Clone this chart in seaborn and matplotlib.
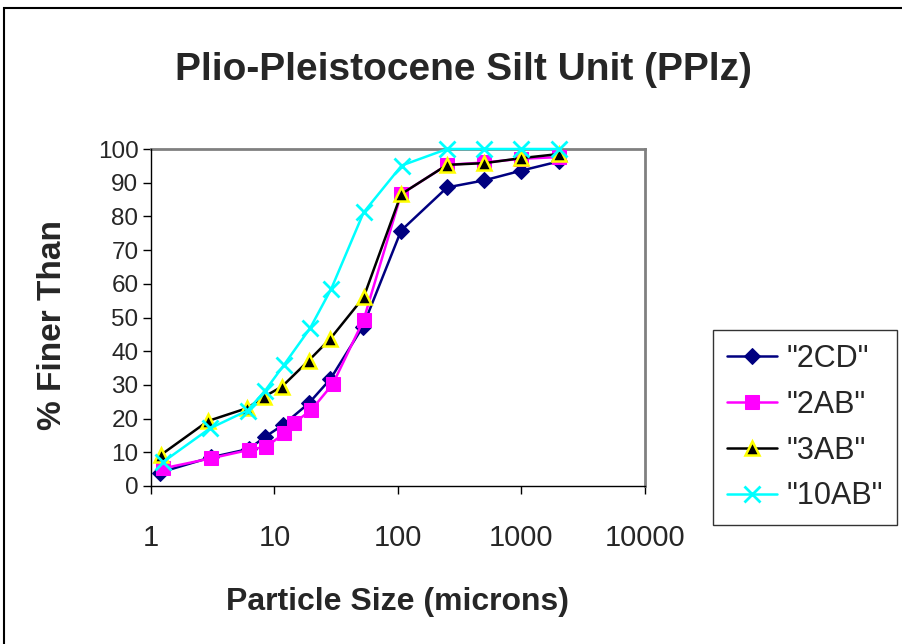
import matplotlib
matplotlib.use("Agg")
import matplotlib.pyplot as plt
import numpy as np
import pandas as pd
import seaborn as sns
from matplotlib.patches import Rectangle

sns.set_style("white")
plt.rcParams['font.family'] = ['Liberation Sans', 'DejaVu Sans']

# particle size (microns) and % finer
x_2cd = [1.18, 3.05, 6.2, 8.4, 11.7, 18.9, 28.3, 52, 106, 250, 500, 1000, 2000]
y_2cd = [4, 8.5, 11, 14.6, 18.1, 24.5, 31.7, 47.3, 75.8, 88.6, 90.7, 93.6, 96.3]

x_2ab = [1.24, 3.05, 6.2, 8.6, 12, 14.5, 19.9, 29.7, 52.7, 106, 250, 500, 1000, 2000]
y_2ab = [5.2, 8.2, 10.7, 11.7, 15.6, 18.8, 22.6, 30.3, 49.3, 86.6, 95.3, 96.0, 97.1, 97.6]

x_3ab = [1.2, 2.9, 6.0, 8.25, 11.5, 18.9, 28.3, 52.7, 106, 250, 500, 1000, 2000]
y_3ab = [9.2, 19.3, 23.1, 26.5, 29.5, 37.2, 43.7, 56, 86.6, 95.3, 95.8, 97.3, 98.5]

x_10ab = [1.26, 3.0, 6.05, 8.4, 11.85, 19.4, 28.8, 52.7, 107, 250, 500, 1000, 2000]
y_10ab = [7.2, 17.1, 22.4, 28.3, 35.8, 46.8, 58.5, 81.2, 95.1, 100, 100, 100, 100]

labels = ['"2CD"', '"2AB"', '"3AB"', '"10AB"']
x_ticks = [1, 10, 100, 1000, 10000]
y_ticks = list(range(0, 101, 10))

series = [
    (x_2cd, y_2cd, dict(color='#000080', marker='D', markersize=8, markeredgecolor='#000080')),
    (x_2ab, y_2ab, dict(color='#FF00FF', marker='s', markersize=10, markeredgecolor='#FF00FF')),
    (x_3ab, y_3ab, dict(color='black', marker='^', markersize=10, markeredgecolor='#FFFF00', markeredgewidth=1.8)),
    (x_10ab, y_10ab, dict(color='#00FFFF', marker='x', markersize=11, markeredgecolor='#00FFFF', markeredgewidth=2)),
]

fig = plt.figure(figsize=(9.03, 6.44), dpi=100)
ax = fig.add_axes([151 / 903, 1 - 486 / 644, 494 / 903, 337 / 644])

for (xs, ys, style), lab in zip(series, labels):
    df = pd.DataFrame({'size': xs, 'finer': ys})
    sns.lineplot(data=df, x='size', y='finer', ax=ax, label=lab, linewidth=1.8,
                 estimator=None, sort=False, clip_on=False, zorder=3, **style)

ax.set_xscale('log')
ax.set_xlim(1, 10000)
ax.set_ylim(0, 100)
ax.set_xticks(x_ticks)
ax.set_xticklabels([str(t) for t in x_ticks])
ax.xaxis.set_minor_locator(matplotlib.ticker.NullLocator())
ax.set_yticks(y_ticks)
ax.tick_params(axis='x', labelsize=21, direction='out', length=6, width=1, color='black', pad=21, bottom=True)
ax.tick_params(axis='y', labelsize=17.5, direction='out', length=6, width=1, color='black', pad=3, left=True)
ax.set_xlabel('')
ax.set_ylabel('')

for side in ['left', 'bottom']:
    ax.spines[side].set_color('black')
    ax.spines[side].set_linewidth(1)
for side in ['top', 'right']:
    ax.spines[side].set_color('#808080')
    ax.spines[side].set_linewidth(2)
    ax.spines[side].set_zorder(1)

ax.get_legend().remove()
handles, labs = ax.get_legend_handles_labels()
leg = fig.legend(handles, labs, loc='upper left', bbox_to_anchor=(713 / 903, 1 - 330 / 644),
                 borderaxespad=0, fontsize=22, frameon=True, fancybox=False,
                 handlelength=1.65, labelspacing=0.52, borderpad=0.45, handletextpad=0.32)
leg.get_frame().set_edgecolor('black')
leg.get_frame().set_linewidth(1)

fig.text(463 / 903, 1 - 70 / 644, 'Plio-Pleistocene Silt Unit (PPlz)', ha='center', va='center',
         fontsize=28, fontweight='bold')
fig.text(398 / 903, 1 - 602 / 644, 'Particle Size (microns)', ha='center', va='center',
         fontsize=23, fontweight='bold')
fig.text(53 / 903, 1 - 325 / 644, '% Finer Than', ha='center', va='center', rotation=90,
         fontsize=24, fontweight='bold')

fig.patches.append(Rectangle((4 / 903, -0.1), 1.2, 1.1 - 8 / 644, transform=fig.transFigure,
                             fill=False, edgecolor='black', linewidth=1.5))

fig.savefig('out.png', dpi=100)
